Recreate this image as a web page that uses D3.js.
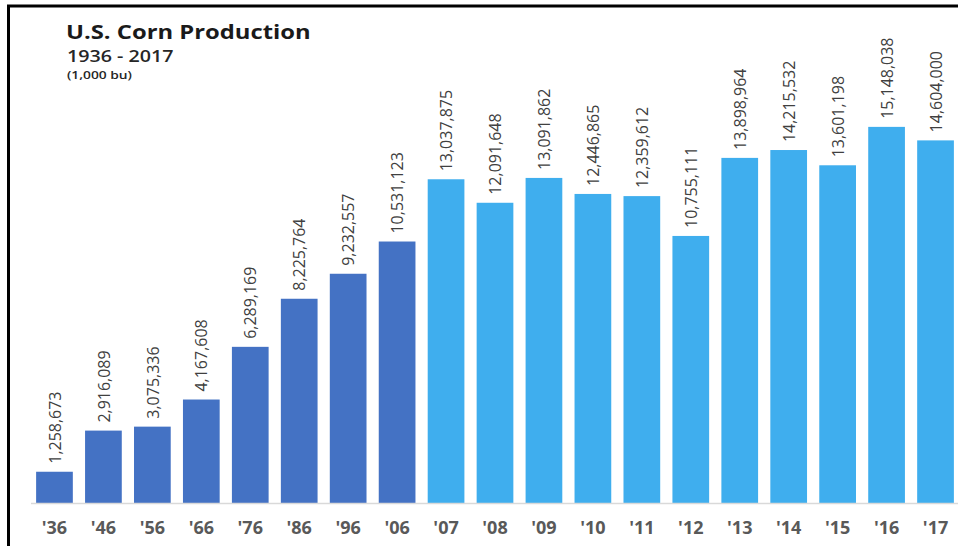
<!DOCTYPE html>
<html>
<head>
<meta charset="utf-8">
<script src="https://cdn.jsdelivr.net/npm/d3@7"></script>
<style>
  html, body { margin: 0; padding: 0; background: #fff; }
  svg { display: block; }
</style>
</head>
<body>
<svg id="chart" width="958" height="546"></svg>
<script>
// U.S. corn production, thousand bushels
const years = ["'36", "'46", "'56", "'66", "'76", "'86", "'96", "'06", "'07", "'08", "'09", "'10", "'11", "'12", "'13", "'14", "'15", "'16", "'17"];
const production = [1258673, 2916089, 3075336, 4167608, 6289169, 8225764, 9232557, 10531123, 13037875, 12091648, 13091862, 12446865, 12359612, 10755111, 13898964, 14215532, 13601198, 15148038, 14604000];
// the decade snapshots use the darker fill, the annual series the lighter one
const decadeYears = ["'36", "'46", "'56", "'66", "'76", "'86", "'96", "'06"];

const svg = d3.select("#chart");
const W = 958, H = 546;
const baseY = 503;

const x = d3.scaleBand()
  .domain(years)
  .range([30, 960])
  .paddingInner(0.25)
  .paddingOuter(0.125);

const y = d3.scaleLinear()
  .domain([0, 16000000])
  .range([baseY, baseY - 16 * 24.83]);

const fmt = d3.format(",");

// frame: left and top rules
svg.append("line").attr("x1", 8.5).attr("x2", 8.5).attr("y1", 5).attr("y2", H)
  .attr("stroke", "#000").attr("stroke-width", 3);
svg.append("line").attr("x1", 7).attr("x2", W).attr("y1", 6).attr("y2", 6)
  .attr("stroke", "#000").attr("stroke-width", 3);

// titles (set slightly wide)
svg.append("text").attr("transform", "translate(66,39) scale(1.19,1)")
  .attr("font-family", "Open Sans").attr("font-weight", 700).attr("font-size", 20)
  .attr("fill", "#1a1a1a").text("U.S. Corn Production");
svg.append("text").attr("transform", "translate(67,62) scale(1.23,1)")
  .attr("font-family", "Open Sans").attr("font-weight", 600).attr("font-size", 16)
  .attr("fill", "#262626").text("1936 - 2017");
svg.append("text").attr("transform", "translate(67,79) scale(1.2,1)")
  .attr("font-family", "Open Sans").attr("font-weight", 600).attr("font-size", 11.5)
  .attr("fill", "#262626").text("(1,000 bu)");

// bars
const data = years.map((k, i) => ({ year: k, value: production[i] }));

svg.append("g").selectAll("rect")
  .data(data).join("rect")
  .attr("x", d => x(d.year))
  .attr("width", x.bandwidth())
  .attr("y", d => y(d.value))
  .attr("height", d => y(0) - y(d.value))
  .attr("fill", d => decadeYears.includes(d.year) ? "#4472C4" : "#3FAEEE");

// value labels, rotated to read upward
svg.append("g").selectAll("text")
  .data(data).join("text")
  .attr("transform", d => `translate(${x(d.year) + x.bandwidth() / 2},${y(d.value) - 8}) rotate(-90) scale(0.94,1)`)
  .attr("dy", "0.36em")
  .attr("text-anchor", "start")
  .attr("font-family", "Open Sans")
  .attr("font-size", 17)
  .attr("fill", "#404040")
  .text(d => fmt(d.value));

// category axis
const axis = svg.append("g")
  .attr("transform", `translate(0,${baseY + 0.5})`)
  .call(d3.axisBottom(x).tickSize(0).tickPadding(18));
axis.select(".domain").attr("stroke", "#d9d9d9").attr("stroke-width", 1.5)
  .attr("d", `M31,0H${W}`);
axis.selectAll(".tick text")
  .attr("font-family", "Open Sans").attr("font-weight", 700).attr("font-size", 18)
  .attr("fill", "#595959");
</script>
</body>
</html>
